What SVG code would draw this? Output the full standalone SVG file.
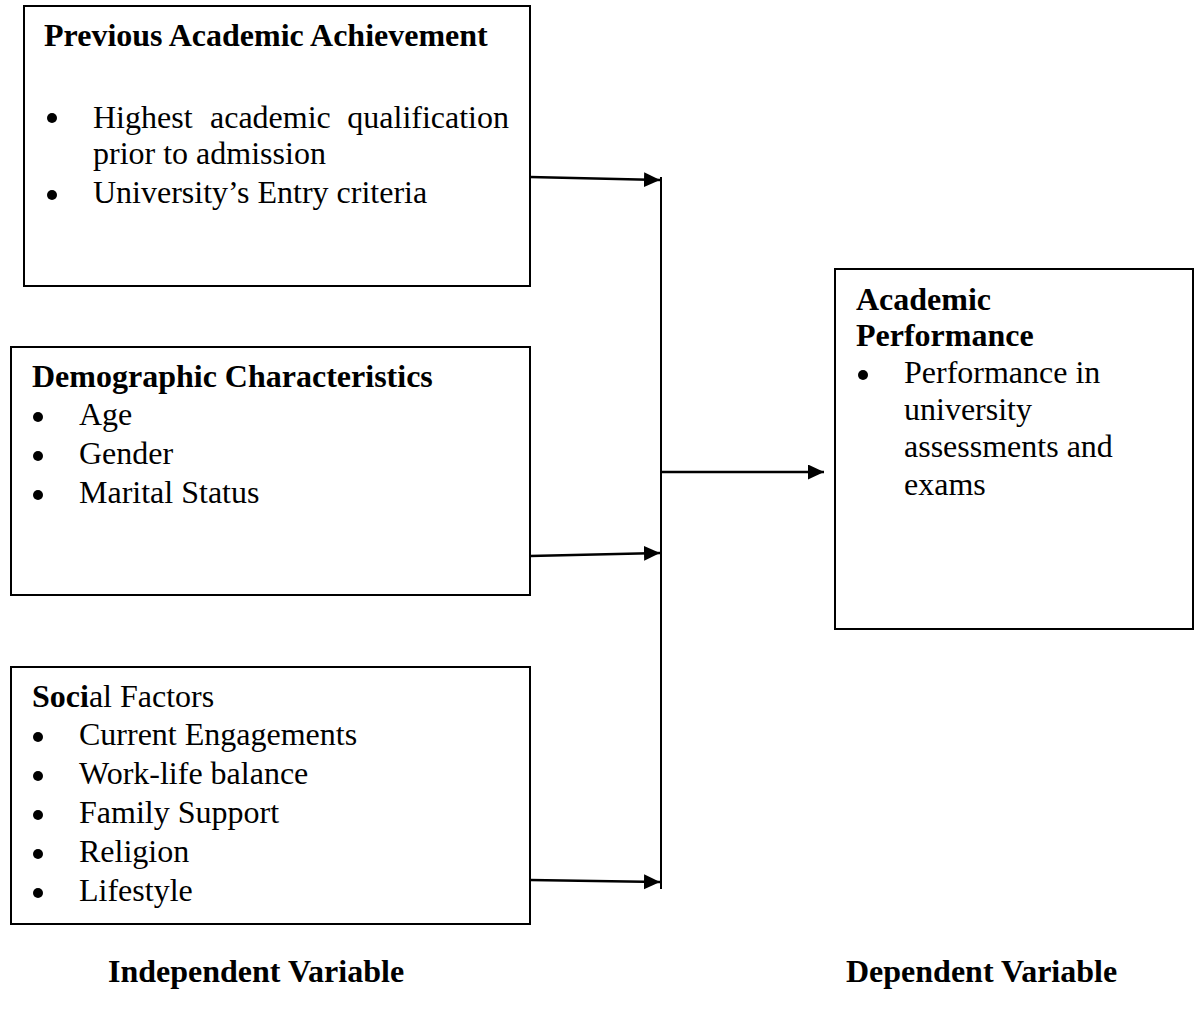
<svg xmlns="http://www.w3.org/2000/svg" width="1196" height="1016" viewBox="0 0 1196 1016">
<style>
  .box { fill: #fff; stroke: #000; stroke-width: 2; }
  .t { font-family: "Liberation Serif", "Times New Roman", serif; font-size: 32px; fill: #000; }
  .b { font-weight: bold; }
  .line { stroke: #000; stroke-width: 2.5; fill: none; }
  .dot { fill: #000; }
</style>
<defs>
  <marker id="arr" markerUnits="userSpaceOnUse" markerWidth="17" markerHeight="16" refX="16" refY="7.5" orient="auto">
    <path d="M0,0 L16,7.5 L0,15 z" fill="#000"/>
  </marker>
</defs>
<rect x="0" y="0" width="1196" height="1016" fill="#fff"/>

<g id="previous-academic-achievement">
  <rect class="box" x="24" y="6" width="506" height="280"/>
  <text class="t b" x="44" y="46">Previous Academic Achievement</text>
  <circle class="dot" cx="52" cy="118" r="5"/>
  <text class="t" x="93" y="128">Highest</text>
  <text class="t" x="210" y="128">academic</text>
  <text class="t" x="509" y="128" text-anchor="end">qualification</text>
  <text class="t" x="93" y="164">prior to admission</text>
  <circle class="dot" cx="52" cy="195" r="5"/>
  <text class="t" x="93" y="203">University’s Entry criteria</text>
</g>

<g id="demographic-characteristics">
  <rect class="box" x="11" y="347" width="519" height="248"/>
  <text class="t b" x="32" y="387">Demographic Characteristics</text>
  <circle class="dot" cx="38" cy="417" r="5"/>
  <text class="t" x="79" y="425">Age</text>
  <circle class="dot" cx="38" cy="456" r="5"/>
  <text class="t" x="79" y="464">Gender</text>
  <circle class="dot" cx="38" cy="495" r="5"/>
  <text class="t" x="79" y="503">Marital Status</text>
</g>

<g id="social-factors">
  <rect class="box" x="11" y="667" width="519" height="257"/>
  <text class="t" x="32" y="707"><tspan class="b">Soci</tspan>al Factors</text>
  <circle class="dot" cx="38" cy="737" r="5"/>
  <text class="t" x="79" y="745">Current Engagements</text>
  <circle class="dot" cx="38" cy="776" r="5"/>
  <text class="t" x="79" y="784">Work-life balance</text>
  <circle class="dot" cx="38" cy="815" r="5"/>
  <text class="t" x="79" y="823">Family Support</text>
  <circle class="dot" cx="38" cy="854" r="5"/>
  <text class="t" x="79" y="862">Religion</text>
  <circle class="dot" cx="38" cy="893" r="5"/>
  <text class="t" x="79" y="901">Lifestyle</text>
</g>

<g id="academic-performance">
  <rect class="box" x="835" y="269" width="358" height="360"/>
  <text class="t b" x="856" y="310">Academic</text>
  <text class="t b" x="856" y="346">Performance</text>
  <circle class="dot" cx="863" cy="375" r="5"/>
  <text class="t" x="904" y="383">Performance in</text>
  <text class="t" x="904" y="420">university</text>
  <text class="t" x="904" y="457">assessments and</text>
  <text class="t" x="904" y="495">exams</text>
</g>

<g id="connectors">
  <line class="line" x1="530" y1="177" x2="660" y2="180" marker-end="url(#arr)"/>
  <line class="line" x1="530" y1="556" x2="660" y2="553" marker-end="url(#arr)"/>
  <line class="line" x1="530" y1="880" x2="660" y2="882" marker-end="url(#arr)"/>
  <line class="line" x1="661" y1="177" x2="661" y2="889" style="stroke-width:2"/>
  <line class="line" x1="661" y1="472" x2="824" y2="472" marker-end="url(#arr)"/>
</g>

<g id="labels">
  <text class="t b" x="108" y="982">Independent Variable</text>
  <text class="t b" x="846" y="982">Dependent Variable</text>
</g>
</svg>
